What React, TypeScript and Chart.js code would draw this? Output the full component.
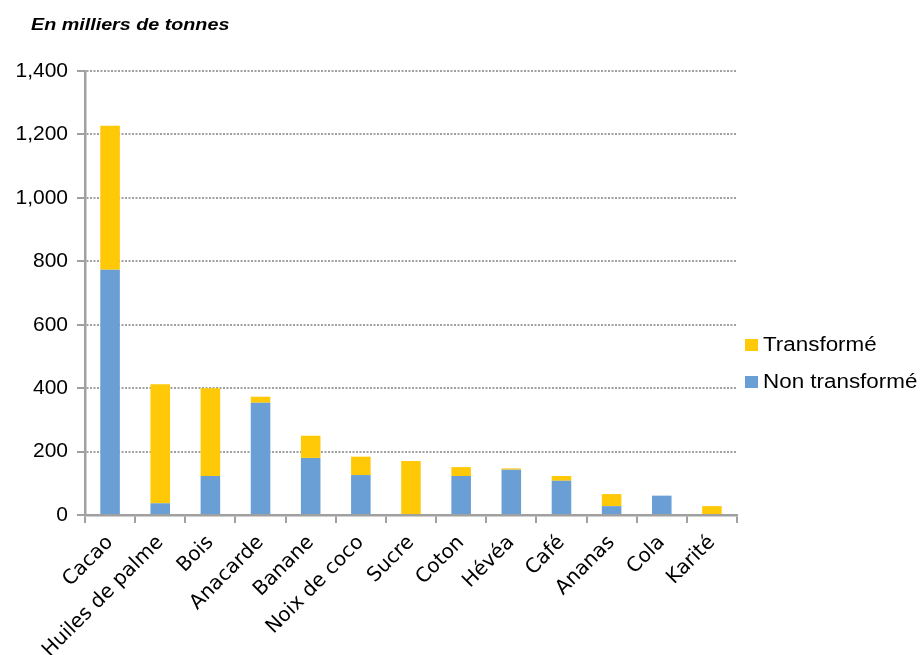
import React, { useEffect, useRef } from "react";
import { Chart, registerables } from "chart.js";

Chart.register(...registerables);

const categories = [
  "Cacao",
  "Huiles de palme",
  "Bois",
  "Anacarde",
  "Banane",
  "Noix de coco",
  "Sucre",
  "Coton",
  "Hévéa",
  "Café",
  "Ananas",
  "Cola",
  "Karité",
];
const nonTransforme = [773, 37, 123, 354, 180, 126, 0, 123, 143, 108, 28, 61, 0];
const transforme = [454, 375, 277, 19, 70, 58, 170, 28, 4, 15, 38, 0, 28];
const titleText = "En milliers de tonnes";
const seriesNames = ["Non transformé", "Transformé"];
const seriesColors = ["#6A9FD5", "#FFC908"];

const overlay = {
  id: "overlay",
  afterDraw(chart: any) {
    const ctx = chart.ctx;
    const area = chart.chartArea;
    ctx.save();
    ctx.fillStyle = "#000";
    ctx.textBaseline = "alphabetic";
    ctx.textAlign = "left";
    ctx.font = 'italic bold 17px "Liberation Sans", Arial, sans-serif';
    ctx.save();
    ctx.translate(31, 30);
    ctx.scale(1.16, 1);
    ctx.fillText(titleText, 0, 0);
    ctx.restore();
    const order = [1, 0];
    const lx = area.right + 8;
    const baseY = 351;
    order.forEach((si, i) => {
      const y = baseY + i * 37;
      ctx.fillStyle = seriesColors[si];
      ctx.fillRect(lx, y - 12, 13, 12);
      ctx.fillStyle = "#000";
      ctx.font = '20px "Liberation Sans", Arial, sans-serif';
      ctx.save();
      ctx.translate(lx + 18, y);
      ctx.scale(1.12, 1);
      ctx.fillText(seriesNames[si], 0, 0);
      ctx.restore();
    });
    ctx.restore();
  },
};

export default function App() {
  const ref = useRef<HTMLCanvasElement | null>(null);
  useEffect(() => {
    if (!ref.current) return;
    const chart = new Chart(ref.current, {
      type: "bar",
      data: {
        labels: categories,
        datasets: [
          {
            label: seriesNames[0],
            data: nonTransforme,
            backgroundColor: seriesColors[0],
            categoryPercentage: 1,
            barPercentage: 0.39,
          },
          {
            label: seriesNames[1],
            data: transforme,
            backgroundColor: seriesColors[1],
            categoryPercentage: 1,
            barPercentage: 0.39,
          },
        ],
      },
      options: {
        animation: false,
        responsive: false,
        maintainAspectRatio: false,
        layout: { padding: { top: 71, right: 184, bottom: 0, left: 0 } },
        plugins: {
          legend: { display: false },
          title: { display: false },
          tooltip: { enabled: false },
        },
        scales: {
          x: {
            stacked: true,
            offset: true,
            afterFit: (s: any) => {
              s.height = 140;
            },
            grid: {
              display: true,
              offset: true,
              drawOnChartArea: false,
              drawTicks: true,
              tickLength: 8,
              color: "#A0A0A0",
              lineWidth: 2,
            },
            border: { display: true, color: "#A0A0A0", width: 2.5 },
            ticks: {
              autoSkip: false,
              maxRotation: 45,
              minRotation: 45,
              padding: 8,
              color: "#000",
              font: { family: '"DejaVu Sans", sans-serif', size: 20 },
            },
          },
          y: {
            stacked: true,
            min: 0,
            max: 1400,
            afterFit: (s: any) => {
              s.width = 85;
            },
            grid: {
              color: "#A0A0A0",
              lineWidth: 2,
              tickLength: 8,
              tickColor: "#A0A0A0",
              tickWidth: 2,
              tickBorderDash: [],
            },
            border: { display: true, color: "#A0A0A0", width: 2.5, dash: [2, 1.5] },
            ticks: {
              stepSize: 200,
              padding: 9,
              color: "#000",
              font: { family: '"Liberation Sans", Arial, sans-serif', size: 21 },
            },
          },
        },
      },
      plugins: [overlay],
    } as any);
    return () => chart.destroy();
  }, []);
  return (
    <div style={{ position: "fixed", left: 0, top: 0, width: 921, height: 655, background: "#fff" }}>
      <canvas ref={ref} width={921} height={655} style={{ width: 921, height: 655 }} />
    </div>
  );
}
